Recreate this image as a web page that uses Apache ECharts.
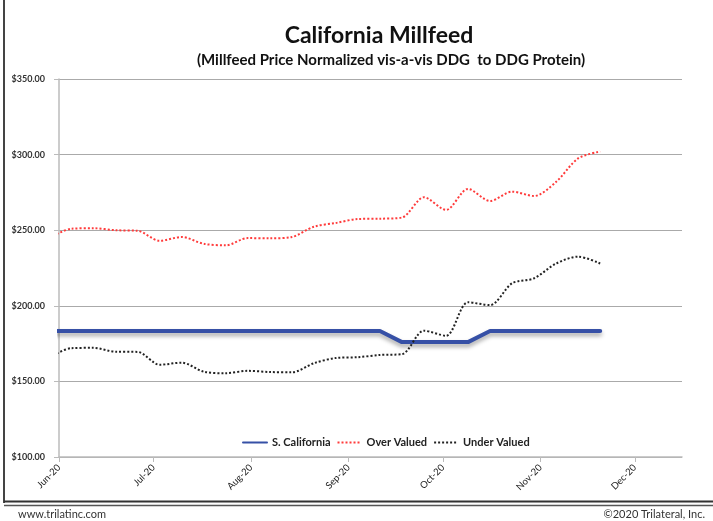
<!DOCTYPE html>
<html>
<head>
<meta charset="utf-8">
<script src="https://cdn.jsdelivr.net/npm/echarts@6/dist/echarts.min.js"></script>
<style>
  html, body { margin: 0; padding: 0; background: #fff; }
  #chart { width: 713px; height: 521px; }
</style>
</head>
<body>
<div id="chart"></div>
<script>
// weekly (Friday) observations
const weeks = [
  '2020-05-29', '2020-06-05', '2020-06-12', '2020-06-19', '2020-06-26',
  '2020-07-03', '2020-07-10', '2020-07-17', '2020-07-24', '2020-07-31',
  '2020-08-07', '2020-08-14', '2020-08-21', '2020-08-28', '2020-09-04',
  '2020-09-11', '2020-09-18', '2020-09-25', '2020-10-02', '2020-10-09',
  '2020-10-16', '2020-10-23', '2020-10-30', '2020-11-06', '2020-11-13',
  '2020-11-20'
]
const sCalifornia = [
  183.3, 183.3, 183.3, 183.3, 183.3, 183.3, 183.3, 183.3, 183.3, 183.3,
  183.3, 183.3, 183.3, 183.3, 183.3, 183.3, 176, 176, 176, 176,
  183.3, 183.3, 183.3, 183.3, 183.3, 183.3
]
const overValued = [
  245, 251, 251.3, 250, 249.6, 243, 245.5, 241, 240, 244.8,
  244.6, 245.5, 252.3, 254.8, 257.4, 257.6, 258.4, 271.8, 263.4, 277.3,
  269.3, 275.5, 272.6, 282, 297.5, 302
]
const underValued = [
  166, 172, 172.2, 169.6, 169.5, 161, 162.4, 156.4, 155.4, 157,
  156.2, 156, 162, 165.5, 166, 167.5, 168, 183.5, 180.2, 202.3,
  200.5, 214.9, 218.2, 228, 232.5, 228
]
const monthTicks = [
  '2020-06-01', '2020-07-01', '2020-08-01', '2020-09-01',
  '2020-10-01', '2020-11-01', '2020-12-01'
]
const monthNames = ['Jan','Feb','Mar','Apr','May','Jun','Jul','Aug','Sep','Oct','Nov','Dec']

const font = 'Lato, "Open Sans", sans-serif'
const toTime = d => Date.UTC(+d.slice(0, 4), +d.slice(5, 7) - 1, +d.slice(8, 10))
const pair = arr => arr.map((v, i) => [toTime(weeks[i]), v])
const tickTimes = monthTicks.map(toTime)

const chart = echarts.init(document.getElementById('chart'))
chart.setOption({
  backgroundColor: '#fff',
  animation: false,
  textStyle: { fontFamily: font },
  grid: { left: 59, right: 31, top: 79, bottom: 64 },
  graphic: [
    { type: 'text', x: 379, y: 36,
      style: { text: 'California Millfeed', font: 'bold 23px ' + font, fill: '#111', align: 'center', verticalAlign: 'middle' } },
    { type: 'text', x: 391, y: 60,
      style: { text: '(Millfeed Price Normalized vis-a-vis DDG  to DDG Protein)', font: 'bold 15px ' + font, fill: '#111', align: 'center', verticalAlign: 'middle' } },
    { type: 'line', shape: { x1: 4, y1: 0, x2: 4, y2: 503 }, style: { stroke: '#444', lineWidth: 2 } },
    { type: 'line', shape: { x1: 4, y1: 501.5, x2: 713, y2: 501.5 }, style: { stroke: '#333', lineWidth: 2 } },
    { type: 'line', shape: { x1: 4, y1: 505.5, x2: 713, y2: 505.5 }, style: { stroke: '#555', lineWidth: 1.5 } },
    { type: 'text', x: 18, y: 514,
      style: { text: 'www.trilatinc.com', font: '11px ' + font, fill: '#333', verticalAlign: 'middle' } },
    { type: 'text', x: 705, y: 514,
      style: { text: '\u00a92020 Trilateral, Inc.', font: '11px ' + font, fill: '#333', align: 'right', verticalAlign: 'middle' } }
  ],
  legend: {
    top: 432,
    left: 237,
    itemWidth: 24,
    itemHeight: 8,
    itemGap: 6,
    itemStyle: { opacity: 0 },
    textStyle: { fontSize: 11, fontWeight: 'bold', color: '#222', fontFamily: font },
    data: ['S. California', 'Over Valued', 'Under Valued']
  },
  xAxis: {
    type: 'value',
    min: toTime('2020-06-01'),
    max: toTime('2020-12-16'),
    axisLine: { lineStyle: { color: '#bbb', width: 1.5 } },
    axisTick: { show: true, length: 5, lineStyle: { color: '#bbb' }, customValues: tickTimes },
    splitLine: { show: false },
    axisLabel: {
      customValues: tickTimes,
      rotate: 45,
      fontSize: 9.5,
      color: '#222',
      margin: 9,
      formatter: v => {
        const d = new Date(v)
        return monthNames[d.getUTCMonth()] + '-' + String(d.getUTCFullYear()).slice(2)
      }
    }
  },
  yAxis: {
    type: 'value',
    min: 100,
    max: 350,
    interval: 50,
    axisLine: { show: true, lineStyle: { color: '#bbb', width: 1.5 } },
    axisTick: { show: true, length: 5, lineStyle: { color: '#bbb' } },
    splitLine: { lineStyle: { color: '#aaa', width: 1.2 } },
    axisLabel: {
      fontSize: 9,
      fontWeight: 'bold',
      color: '#333',
      margin: 14,
      formatter: v => '$' + v.toFixed(2)
    }
  },
  series: [
    {
      name: 'S. California',
      type: 'line',
      data: pair(sCalifornia),
      symbol: 'none',
      color: '#3650a6',
      lineStyle: {
        width: 4, color: '#3650a6', cap: 'round',
        shadowColor: 'rgba(0,0,0,0.35)', shadowBlur: 4, shadowOffsetY: 3
      },
      z: 3
    },
    {
      name: 'Over Valued',
      type: 'line',
      data: pair(overValued),
      smooth: 0.3,
      symbol: 'none',
      color: '#ff3b3b',
      lineStyle: { width: 2, color: '#ff3b3b', type: [2, 2] }
    },
    {
      name: 'Under Valued',
      type: 'line',
      data: pair(underValued),
      smooth: 0.3,
      symbol: 'none',
      color: '#222',
      lineStyle: { width: 2, color: '#222', type: [2, 2] }
    }
  ]
})
</script>
</body>
</html>
